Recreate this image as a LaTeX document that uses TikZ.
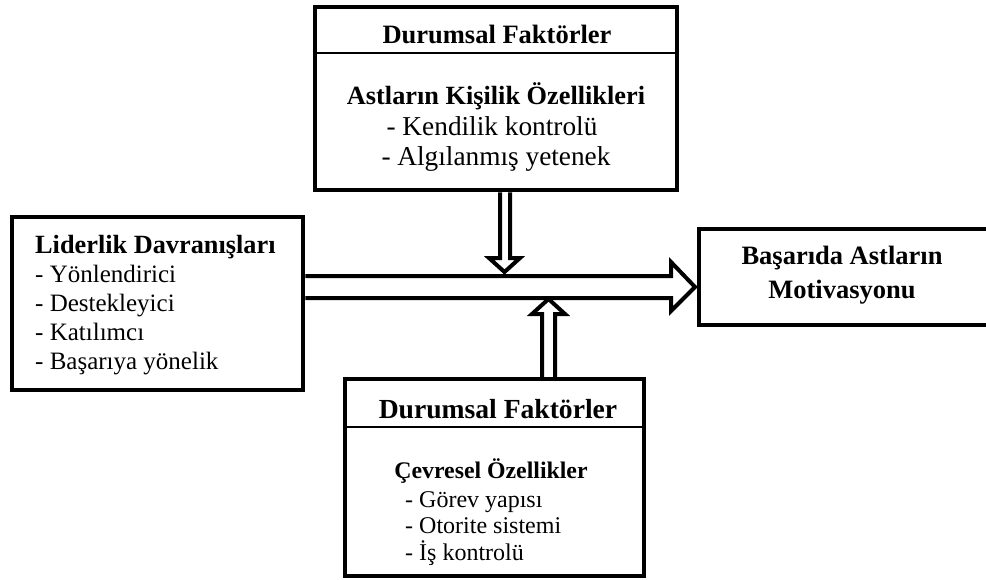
\documentclass[tikz,border=0pt]{standalone}
\usepackage{fontspec}
\setmainfont{Liberation Serif}
\usetikzlibrary{calc}
\begin{document}
\begin{tikzpicture}[x=1pt,y=-1pt,
  box/.style={draw, line width=4.5pt, inner sep=0pt, fill=white},
  blockarrow/.style={draw, line width=4pt, line join=miter, fill=white},
  sep/.style={line width=1.5pt},
  ttl/.style={font=\fontsize{26.5}{30}\selectfont\bfseries},
  ltl/.style={font=\fontsize{26.3}{30}\selectfont\bfseries},
  big/.style={font=\fontsize{27.6}{32}\selectfont\bfseries},
  sub/.style={font=\fontsize{26.3}{30}\selectfont\bfseries},
  item/.style={font=\fontsize{27.3}{31}\selectfont},
  lit/.style={font=\fontsize{25}{29}\selectfont},
  sitem/.style={font=\fontsize{24}{27}\selectfont},
  ssub/.style={font=\fontsize{23.8}{27}\selectfont\bfseries}]
\useasboundingbox (0,0) rectangle (986,579);

% boxes
\node[box, minimum width=362pt, minimum height=183pt] (top) at (496,98.5) {};
\node[box, minimum width=291pt, minimum height=173pt] (left) at (157.5,303.5) {};
\node[box, minimum width=311pt, minimum height=96pt] (right) at (854.5,277) {};
\node[box, minimum width=299pt, minimum height=197pt] (bot) at (494.5,477.5) {};

% separators
\draw[sep] (top.west |- 0,53) -- (top.east |- 0,53);
\draw[sep] (bot.west |- 0,427) -- (bot.east |- 0,427);

% top box text
\node[ttl, anchor=base] (t1) at (497,43) {Durumsal Faktörler};
\node[sub, anchor=base] (t2) at (496,104) {Astların Kişilik Özellikleri};
\node[item, anchor=base] (t3) at (492,135) {- Kendilik kontrolü};
\node[item, anchor=base] (t4) at (496,165) {- Algılanmış yetenek};

% left box text
\node[ltl, anchor=base west, inner sep=0pt] (l1) at (35,253) {Liderlik Davranışları};
\node[lit, anchor=base west, inner sep=0pt] (l2) at (35,282) {- Yönlendirici};
\node[lit, anchor=base west, inner sep=0pt] (l3) at (35,311) {- Destekleyici};
\node[lit, anchor=base west, inner sep=0pt] (l4) at (35,340) {- Katılımcı};
\node[lit, anchor=base west, inner sep=0pt] (l5) at (35,369) {- Başarıya yönelik};

% right box text
\node[ttl, anchor=base] (r1) at (842,264) {Başarıda Astların};
\node[ttl, anchor=base] (r2) at (842,298) {Motivasyonu};

% bottom box text
\node[big, anchor=base] (b1) at (498,418) {Durumsal Faktörler};
\node[ssub, anchor=base] (b2) at (491,478) {Çevresel Özellikler};
\node[sitem, anchor=base west, inner sep=0pt] (b3) at (405,507) {- Görev yapısı};
\node[sitem, anchor=base west, inner sep=0pt] (b4) at (405,533) {- Otorite sistemi};
\node[sitem, anchor=base west, inner sep=0pt] (b5) at (405,560) {- İş kontrolü};

% main arrow
\draw[blockarrow] (left.east |- 0,276) -- (671,276) -- (671,262) -- (695,287)
  -- (671,311) -- (671,298) -- (left.east |- 0,298);
% down arrow
\draw[blockarrow] (top.south -| 500,0) -- (500,258) -- (489,258) -- (504.5,272)
  -- (520,258) -- (510,258) -- (top.south -| 510,0);
% up arrow
\draw[blockarrow] (bot.north -| 542,0) -- (542,314) -- (532,314) -- (548.5,299)
  -- (565,314) -- (555,314) -- (bot.north -| 555,0);
\end{tikzpicture}
\end{document}
